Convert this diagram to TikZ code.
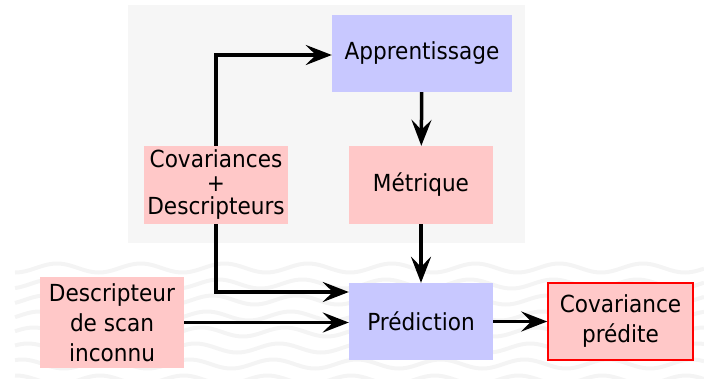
\documentclass[tikz,border=0pt]{standalone}
\usepackage{fontspec}
\setmainfont[FakeStretch=0.92]{DejaVu Sans}
\usepackage{xcolor}
\usetikzlibrary{arrows.meta}

\definecolor{fondgris}{HTML}{F6F6F6}
\definecolor{bleuboite}{HTML}{C8C8FF}
\definecolor{roseboite}{HTML}{FFC8C8}
\definecolor{vague}{HTML}{F4F4F4}

\begin{document}
\begin{tikzpicture}[
        x=1pt, y=-1pt,
        box/.style={rectangle, fill=roseboite, align=center, inner sep=0pt,
                    minimum width=144pt, minimum height=78pt,
                    font=\fontsize{23.5}{30}\selectfont},
        arrow/.style={-{Stealth[length=26pt, width=20pt, inset=10pt]}, line width=3.5pt},
        wave/.style={draw=vague, line width=4pt}
    ]
        \useasboundingbox (0,0) rectangle (704,378);

        % fond
        \fill[fondgris] (128,5) rectangle (525,243);
        \foreach \row [count=\i] in {268,284,300,316,332,348,364,380}
            \draw[wave] plot[domain=15:704, samples=150, smooth]
                (\x, {\row + 4.5*sin(\x*4.3 + \i*25)});

        % boites
        \node[box, fill=bleuboite, minimum width=180pt, minimum height=77pt] (appr) at (422,53.5) {Apprentissage};
        \node[box] (metr) at (421,185) {Métrique};
        \node[box, font=\fontsize{23.5}{23.5}\selectfont] (covd) at (216,185) {Covariances\\+\\Descripteurs};
        \node[box, fill=bleuboite, minimum height=77pt] (pred) at (421,321.5) {Prédiction};
        \node[box, minimum height=91pt] (desc) at (112,322.5) {Descripteur\\de scan\\inconnu};
        \node[box, draw=red, line width=1.5pt, minimum width=145pt, minimum height=77pt] (covp) at (620.5,321.5) {Covariance\\prédite};

        % fleches
        \draw[arrow] (covd.north) |- ([yshift=-1.5pt]appr.west);
        \draw[arrow] (appr) -- (metr);
        \draw[arrow] (metr) -- (pred);
        \draw[arrow] (covd.south) |- ([yshift=29.5pt]pred.west);
        \draw[arrow] (desc.east) -- (desc.east -| pred.west);
        \draw[arrow] (pred) -- (covp);
    \end{tikzpicture}
\end{document}
